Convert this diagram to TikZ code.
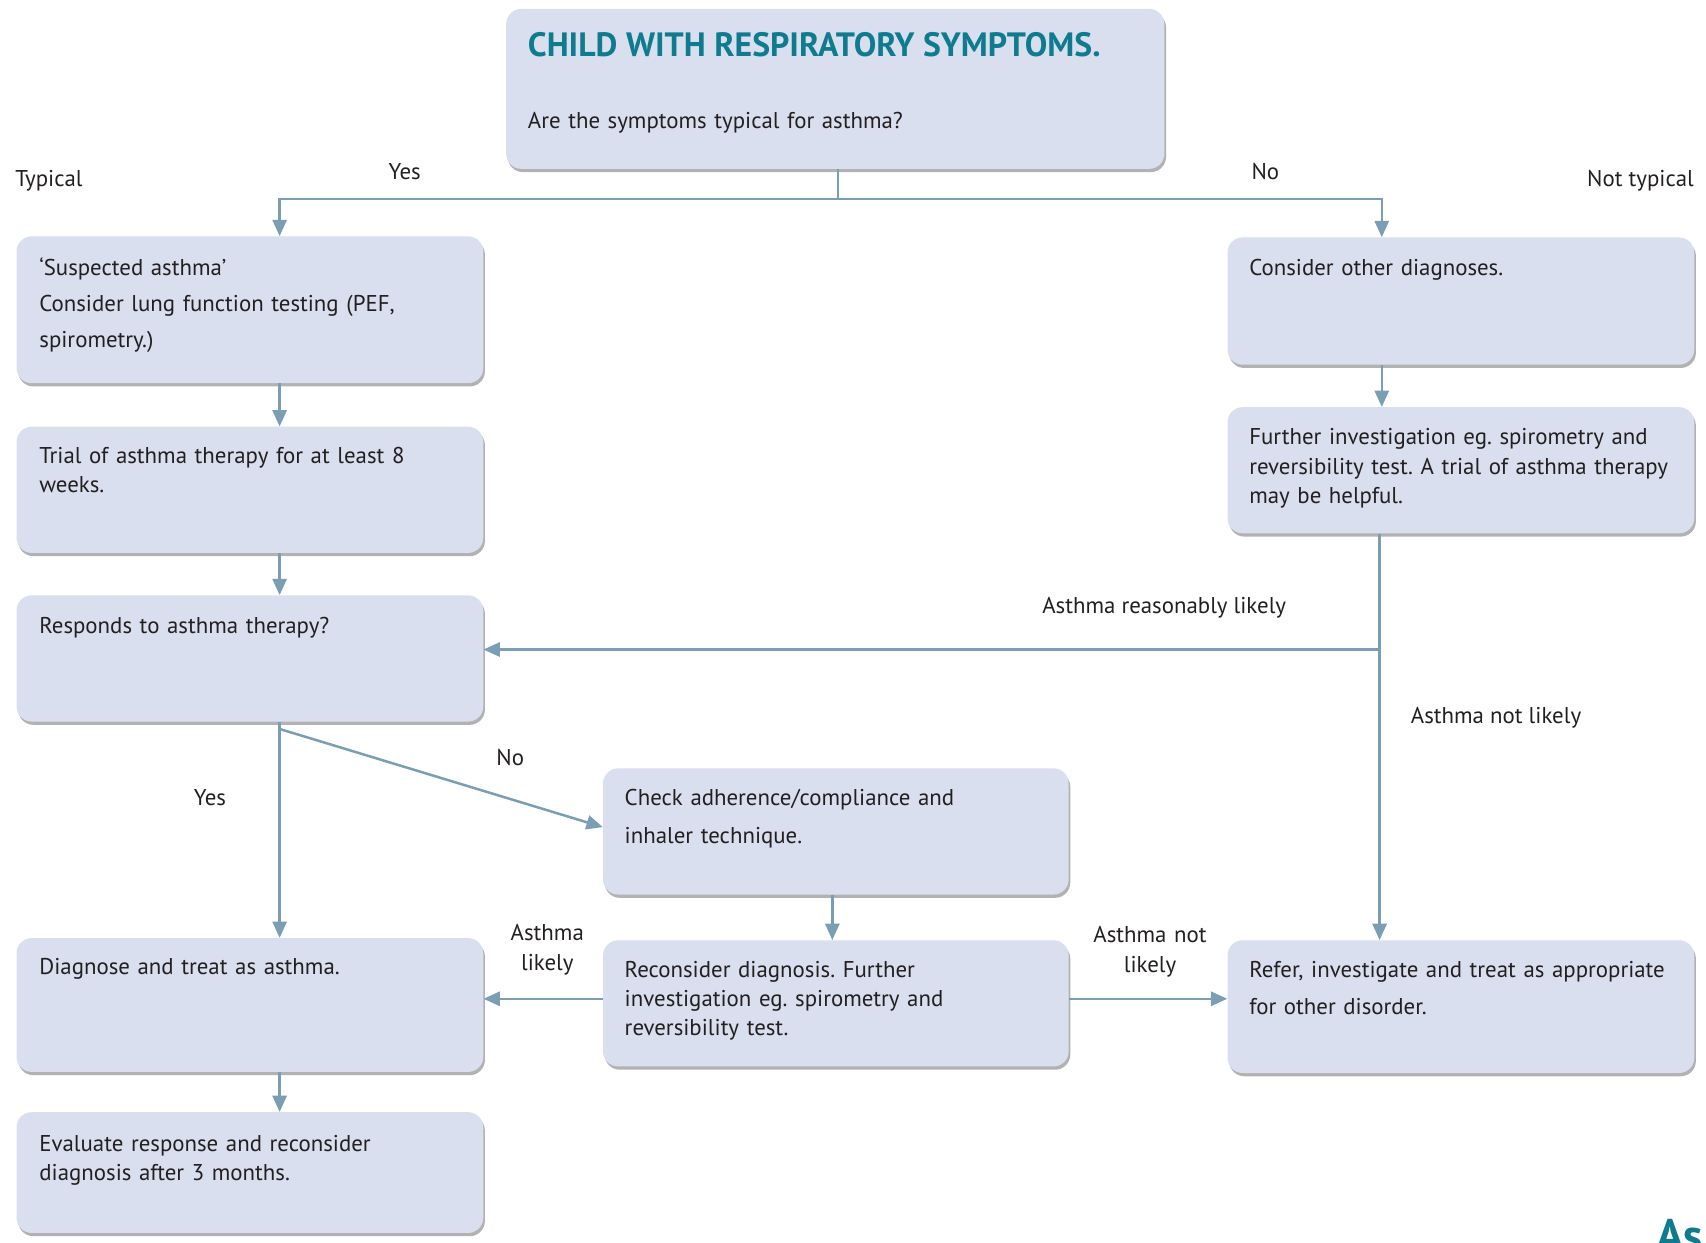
\documentclass[tikz,border=0pt]{standalone}
\usepackage{fontspec}
\setmainfont{PT Sans}
\usetikzlibrary{arrows.meta,shadows,calc}
\definecolor{boxfill}{HTML}{D9DFEE}
\definecolor{arrowc}{HTML}{7A9FB4}
\definecolor{titlec}{HTML}{0E7B8E}
\definecolor{txtc}{HTML}{231F20}
\frenchspacing
\begin{document}
\begin{tikzpicture}[x=1pt,y=-1pt,
  box/.style={fill=boxfill, rounded corners=14pt, inner sep=0pt, anchor=north west,
    drop shadow={shadow xshift=1.5pt, shadow yshift=-3pt, fill=black!60, opacity=0.5}},
  txt/.style={anchor=base west, text width=430pt, align=left, inner sep=0pt, text=txtc,
    font=\fontsize{21}{27}\selectfont},
  lbl/.style={anchor=base, inner sep=0pt, text=txtc, font=\fontsize{21}{28}\selectfont},
  conn/.style={draw=arrowc, line width=2.3pt},
  arr/.style={conn, -{Triangle[length=15pt,width=13pt]}}]
\useasboundingbox (0,0) rectangle (1568,1142);

% boxes
\node[box, minimum width=605, minimum height=147] (top) at (465,8) {};
\node[box, minimum width=429, minimum height=135] (A) at (15,217) {};
\node[box, minimum width=429, minimum height=116] (B) at (15,392) {};
\node[box, minimum width=429, minimum height=116] (C) at (15,547) {};
\node[box, minimum width=429, minimum height=123] (D) at (15,862) {};
\node[box, minimum width=429, minimum height=111] (E) at (15,1022) {};
\node[box, minimum width=428, minimum height=116] (F) at (554,706) {};
\node[box, minimum width=428, minimum height=116] (G) at (554,864) {};
\node[box, minimum width=429, minimum height=117] (H) at (1128,218) {};
\node[box, minimum width=429, minimum height=116] (I) at (1128,374) {};
\node[box, minimum width=429, minimum height=122] (J) at (1128,864) {};

% box texts
\node[anchor=base west, inner sep=0pt, text=titlec, font=\bfseries\fontsize{31}{33}\selectfont] (topt) at (485,52) {CHILD WITH RESPIRATORY SYMPTOMS.};
\node[txt] (topq) at (485,118) {Are the symptoms typical for asthma?};
\node[txt, font=\fontsize{21}{33}\selectfont] (At) at (36,253) {‘Suspected asthma’\\Consider lung function testing (PEF,\\spirometry.)};
\node[txt] (Bt) at (36,426) {Trial of asthma therapy for at least 8\\weeks.};
\node[txt] (Ct) at (36,582) {Responds to asthma therapy?};
\node[txt] (Dt) at (36,896) {Diagnose and treat as asthma.};
\node[txt] (Et) at (36,1058) {Evaluate response and reconsider\\diagnosis after 3 months.};
\node[txt, font=\fontsize{21}{35}\selectfont] (Ft) at (574,740) {Check adherence/compliance and\\inhaler technique.};
\node[txt] (Gt) at (574,898) {Reconsider diagnosis. Further\\investigation eg. spirometry and\\reversibility test.};
\node[txt] (Ht) at (1148,253) {Consider other diagnoses.};
\node[txt] (It) at (1148,409) {Further investigation eg. spirometry and\\reversibility test. A trial of asthma therapy\\may be helpful.};
\node[txt, font=\fontsize{21}{34}\selectfont] (Jt) at (1148,898) {Refer, investigate and treat as appropriate\\for other disorder.};

% labels
\node[lbl, anchor=base west] (typ) at (14,171) {Typical};
\node[lbl] (yes1) at (372,165) {Yes};
\node[lbl] (no1) at (1163,165) {No};
\node[lbl, anchor=base east] (ntyp) at (1557,171) {Not typical};
\node[lbl] (arl) at (1070,564) {Asthma reasonably likely};
\node[lbl] (anl) at (1375,665) {Asthma not likely};
\node[lbl] (yes2) at (193,740) {Yes};
\node[lbl] (no2) at (469,704) {No};
\node[lbl, text width=130pt, align=center] (al) at (503,864) {Asthma\\likely};
\node[lbl, text width=130pt, align=center] (anl2) at (1057,866) {Asthma not\\likely};
\node[anchor=base west, inner sep=0pt, text=titlec, font=\bfseries\fontsize{42}{42}\selectfont] (as) at (1522,1150) {As};

% connectors
\coordinate (colL) at (257,0);
\coordinate (colM) at (765,0);
\coordinate (colR) at (1270,0);
\coordinate (colR2) at (1268,0);
\coordinate (j1) at (770,183);
\coordinate (dg) at (257,670);
\coordinate (rowG) at (0,918);
\coordinate (br) at (1268,597);

\draw[conn] (top.south -| j1) -- (j1);
\draw[arr] (j1) -| (A.north -| colL);
\draw[arr] (j1) -| (H.north -| colR);
\draw[arr] (A.south -| colL) -- (B.north -| colL);
\draw[arr] (B.south -| colL) -- (C.north -| colL);
\draw[arr] (C.south -| colL) -- (D.north -| colL);
\draw[arr] (D.south -| colL) -- (E.north -| colL);
\draw[arr] (dg) -- ($(F.west)+(0,-4)$);
\draw[arr] (F.south -| colM) -- (G.north -| colM);
\draw[arr] (G.west |- rowG) -- (D.east |- rowG);
\draw[arr] (G.east |- rowG) -- (J.west |- rowG);
\draw[arr] (H.south -| colR) -- (I.north -| colR);
\draw[arr] (I.south -| colR2) -- (J.north -| colR2);
\draw[arr] (br) -- (C.east |- br);
\end{tikzpicture}
\end{document}
